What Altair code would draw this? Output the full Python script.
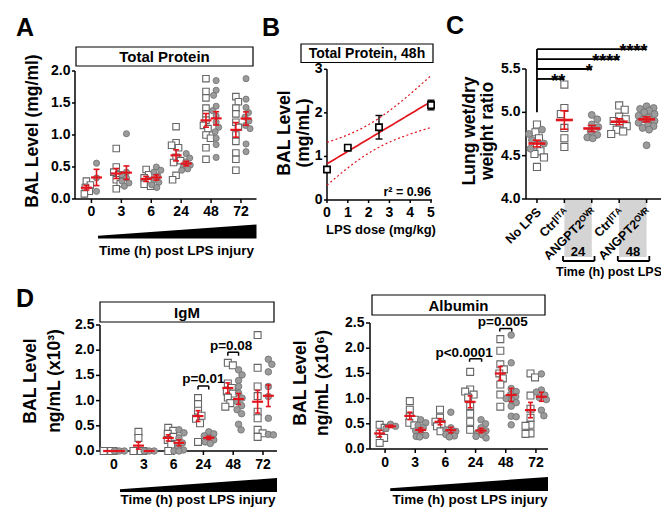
import altair as alt
import numpy as np
import pandas as pd

FONT = "Liberation Sans"
RED = "#e2141c"
OFF = 8            # page margin: chart pixel = image pixel - 8
W, H = 653, 499

# ---------------------------------------------------------------- data
times = ["0", "3", "6", "24", "48", "72"]

# Panel A : Total protein (mg/ml)   squares = Ctrl(ITA), circles = ANGPT2(OVR)
a_ctrl = [
    [0.28, 0.22, 0.18, 0.12, 0.08],
    [0.79, 0.50, 0.42, 0.38, 0.30, 0.24, 0.16],
    [0.46, 0.38, 0.33, 0.28, 0.23, 0.20],
    [1.13, 0.88, 0.84, 0.80, 0.65, 0.60, 0.57, 0.37, 0.30],
    [1.88, 1.68, 1.58, 1.42, 1.33, 1.23, 1.15, 1.10, 1.00, 0.95, 0.80, 0.62],
    [1.60, 1.52, 1.42, 1.33, 1.20, 1.12, 1.00, 0.90, 0.72, 0.62, 0.45],
]
a_angpt2 = [
    [0.56, 0.33, 0.12],
    [1.02, 0.42, 0.38, 0.33, 0.28, 0.25, 0.20],
    [0.50, 0.45, 0.42, 0.36, 0.30, 0.26, 0.22, 0.18],
    [0.71, 0.64, 0.58, 0.53, 0.50, 0.47, 0.45],
    [1.85, 1.70, 1.62, 1.45, 1.38, 1.30, 1.20, 1.12, 1.05, 0.95, 0.85, 0.65],
    [1.88, 1.56, 1.43, 1.35, 1.28, 1.22, 1.15, 1.10, 0.86, 0.74],
]

# Panel B : Total protein at 48h vs LPS dose
b_dose = [0, 1, 2.5, 5]
b_mean = [0.70, 1.20, 1.67, 2.18]
b_sem = [0.05, 0.04, 0.27, 0.11]

# Panel C : lung wet/dry weight ratio
c_labels = ["No LPS", "Ctrl\u1d35\u1d40\u1d2c", "ANGPT2\u1d3c\u2c7d\u1d3f",
            "Ctrl\u1d35\u1d40\u1d2c", "ANGPT2\u1d3c\u2c7d\u1d3f"]
c_ctrl = [
    [4.86, 4.77, 4.70, 4.62, 4.55, 4.52, 4.48, 4.37],
    [5.32, 5.05, 4.98, 4.82, 4.70, 4.60],
    [],
    [5.08, 5.03, 4.95, 4.92, 4.90, 4.87, 4.84, 4.80, 4.78, 4.75],
    [],
]
c_angpt2 = [
    [4.80, 4.75, 4.68, 4.64, 4.58],
    [],
    [4.97, 4.92, 4.86, 4.83, 4.78, 4.74, 4.71, 4.70],
    [],
    [5.07, 5.05, 5.04, 5.02, 5.00, 4.98, 4.96, 4.94, 4.92, 4.90, 4.88, 4.86,
     4.84, 4.82, 4.80, 4.62],
]
c_sig_text = ["**", "*", "****", "****"]
c_sig_level = [5.385, 5.50, 5.615, 5.73]
c_sig_target = [1, 2, 3, 4]
c_time_groups = ["24", "48"]
c_time_from = [1, 3]
c_time_to = [2, 4]

# Panel D : IgM (ng/mL x10^3) and Albumin (ng/mL x10^6)
igm_ctrl = [
    [0, 0, 0, 0],
    [0.38, 0.26, 0, 0, 0, 0],
    [0.46, 0.40, 0.34, 0.28, 0.22, 0.12, 0.0],
    [1.05, 0.93, 0.80, 0.70, 0.64, 0.55, 0.18],
    [1.75, 1.70, 1.34, 1.25, 1.18, 1.14, 1.06, 0.95, 0.88],
    [2.30, 1.65, 1.28, 1.09, 0.78, 0.65, 0.42, 0.35, 0.28],
]
igm_angpt2 = [
    [0, 0, 0],
    [0, 0, 0],
    [0.42, 0.36, 0.26, 0.16, 0.08, 0.02, 0.0, 0.0],
    [0.38, 0.34, 0.30, 0.26, 0.22, 0.18, 0.15],
    [1.61, 1.51, 1.40, 1.28, 1.15, 1.05, 0.98, 0.90, 0.82, 0.74, 0.53, 0.42],
    [1.82, 1.72, 1.57, 1.28, 1.08, 0.65, 0.33, 0.32],
]
alb_ctrl = [
    [0.48, 0.42, 0.30, 0.22, 0.12],
    [0.95, 0.78, 0.64, 0.58, 0.52, 0.47],
    [0.78, 0.62, 0.54, 0.50, 0.45, 0.35],
    [1.53, 1.18, 1.14, 1.08, 1.02, 0.85, 0.70, 0.54, 0.38],
    [2.18, 1.95, 1.68, 1.58, 1.50, 1.40, 1.28, 1.08, 0.84],
    [1.50, 1.42, 1.06, 0.80, 0.62, 0.48, 0.46, 0.31, 0.30],
]
alb_angpt2 = [
    [0.49, 0.45, 0.41],
    [0.58, 0.52, 0.47, 0.42, 0.36, 0.30, 0.27, 0.25, 0.24],
    [0.73, 0.42, 0.38, 0.35, 0.32, 0.29, 0.26, 0.24],
    [0.58, 0.50, 0.42, 0.36, 0.32, 0.28, 0.25, 0.22],
    [2.26, 1.71, 1.20, 1.14, 1.08, 1.04, 1.00, 0.97, 0.92, 0.85, 0.65, 0.64, 0.48],
    [1.49, 1.17, 1.13, 1.07, 1.02, 0.98, 0.77, 0.66],
]
# p-value annotations: text, time index, bracket level, text x, text y
igm_p = ["p=0.01", "p=0.08"]
igm_p_cat = [3, 4]
igm_p_level = [1.29, 1.96]
igm_p_tx = [3.0, 3.93]
igm_p_ty = [1.43, 2.09]
alb_p = ["p<0.0001", "p=0.005"]
alb_p_cat = [3, 4]
alb_p_level = [1.79, 2.39]
alb_p_tx = [2.62, 3.9]
alb_p_ty = [1.90, 2.52]

y_ticks_A = [0, 0.5, 1.0, 1.5, 2.0]
y_ticks_B = [0, 1, 2, 3]
x_ticks_B = [0, 1, 2, 3, 4, 5]
y_ticks_C = [4.0, 4.5, 5.0, 5.5]
y_ticks_D = [0, 0.5, 1.0, 1.5, 2.0, 2.5]


# ---------------------------------------------------------------- helpers
def P(v):
    return v - OFF


def scale(domain, p0, p1):
    return alt.Scale(domain=list(domain), range=[P(p0), P(p1)], nice=False, zero=False)


def X(f, s):
    return alt.X(f, type="quantitative", scale=s, axis=None)


def Y(f, s):
    return alt.Y(f, type="quantitative", scale=s, axis=None)


def text_at(t, x, y, size=13, weight="bold", angle=0, align="center", baseline="middle"):
    df = pd.DataFrame({"t": [t]})
    return alt.Chart(df).mark_text(font=FONT, fontSize=size, fontWeight=weight, angle=angle,
                                   align=align, baseline=baseline, color="black").encode(
        x=alt.value(P(x)), y=alt.value(P(y)), text="t:N")


def title_box(t, x0, x1, y0, y1, size=15):
    df = pd.DataFrame({"t": [t]})
    r = alt.Chart(df).mark_rect(fill="white", stroke="black", strokeWidth=1.2).encode(
        x=alt.value(P(x0)), x2=alt.value(P(x1)), y=alt.value(P(y0)), y2=alt.value(P(y1)))
    return [r, text_at(t, (x0 + x1) / 2, (y0 + y1) / 2 + 0.5, size)]


def fmt(v, dec):
    return f"{v:.{dec}f}"


def y_axis(ys, ax, vals, dec, tick=4, size=14):
    df = pd.DataFrame({"v": vals, "l": [fmt(v, dec) for v in vals]})
    ends = pd.DataFrame({"a": [vals[0]], "b": [vals[-1]]})
    line = alt.Chart(ends).mark_rule(color="black", strokeWidth=1.5).encode(
        x=alt.value(P(ax)), y=Y("a", ys), y2="b")
    ticks = alt.Chart(df).mark_rule(color="black", strokeWidth=1.5).encode(
        x=alt.value(P(ax - tick)), x2=alt.value(P(ax)), y=Y("v", ys))
    txt = alt.Chart(df).mark_text(font=FONT, fontSize=size, fontWeight="bold", align="right",
                                  baseline="middle").encode(
        x=alt.value(P(ax - tick - 1.5)), y=Y("v", ys), text="l:N")
    return [line, ticks, txt]


def x_axis(xs, ay, dom, vals, labs, label_y, tick=4, size=14):
    ends = pd.DataFrame({"a": [dom[0]], "b": [dom[1]]})
    df = pd.DataFrame({"v": vals, "l": labs})
    line = alt.Chart(ends).mark_rule(color="black", strokeWidth=1.5).encode(
        x=X("a", xs), x2="b", y=alt.value(P(ay)))
    ticks = alt.Chart(df).mark_rule(color="black", strokeWidth=1.5).encode(
        x=X("v", xs), y=alt.value(P(ay)), y2=alt.value(P(ay + tick)))
    out = [line, ticks]
    if label_y is not None:
        out.append(alt.Chart(df).mark_text(font=FONT, fontSize=size, fontWeight="bold",
                                           baseline="middle").encode(
            x=X("v", xs), y=alt.value(P(label_y)), text="l:N"))
    return out


def swarm(vals, ppu_y, d, lim):
    """deterministic beeswarm: horizontal pixel offsets so markers do not pile up"""
    cands = np.arange(-lim, lim + 0.01, 0.5)
    order = sorted(range(len(vals)), key=lambda i: (-vals[i], i))
    placed, out = [], [0.0] * len(vals)
    for n_, i in enumerate(order):
        yy = vals[i] * ppu_y
        sgn = 1 if n_ % 2 == 0 else -1
        cs = sorted(cands, key=lambda c: (abs(c), sgn * c))
        best, bestd = 0.0, -1.0
        for c in cs:
            md = min([np.hypot(c - a, yy - b) for a, b in placed], default=1e9)
            if md >= d:
                best = c
                break
            if md > bestd:
                bestd, best = md, c
        placed.append((best, yy))
        out[i] = float(best)
    return out


def group_points(series, center, ppx, ppy, d, lim):
    rows = []
    for k, vals in enumerate(series):
        offs = swarm(vals, ppy, d, lim)
        for v, o in zip(vals, offs):
            rows.append({"c": k + center, "x": k + center + o / ppx, "v": v})
    return pd.DataFrame(rows)


def sq_layer(df, xs, ys, size):
    return alt.Chart(df).mark_point(shape="square", filled=True, fill="white", stroke="#666666",
                                    strokeWidth=1.1, size=size, opacity=1).encode(
        x=X("x", xs), y=Y("v", ys))


def ci_layer(df, xs, ys, size):
    return alt.Chart(df).mark_point(shape="circle", filled=True, fill="#9b9b9b", stroke="#6e6e6e",
                                    strokeWidth=0.8, size=size, opacity=1).encode(
        x=X("x", xs), y=Y("v", ys))


def mean_sem(df, xs, ys, w, cap, th=2.2, color=RED, vfield="v", cfield="c"):
    base = alt.Chart(df).transform_aggregate(
        m=f"mean({vfield})", se=f"stderr({vfield})", groupby=[cfield]).transform_calculate(
        lo="datum.m - datum.se", hi="datum.m + datum.se")
    v = base.mark_rule(color=color, strokeWidth=1.6).encode(x=X(cfield, xs), y=Y("lo", ys), y2="hi")
    caps = base.transform_fold(["lo", "hi"], as_=["k", "e"]).mark_tick(
        color=color, orient="horizontal", size=cap, thickness=1.6, opacity=1).encode(
        x=X(cfield, xs), y=Y("e", ys))
    m = base.mark_tick(color=color, orient="horizontal", size=w, thickness=th, opacity=1).encode(
        x=X(cfield, xs), y=Y("m", ys))
    return [v, caps, m]


def wedge(xs, x0, x1, ybottom, hmax):
    ws = alt.Scale(domain=[0, 1], range=[P(ybottom), P(ybottom - hmax)], nice=False, zero=False)
    df = pd.DataFrame({"x": [x0, x1], "h": [0.2, 1.0], "z": [0.0, 0.0]})
    return alt.Chart(df).mark_area(color="black", opacity=1).encode(
        x=X("x", xs), y=Y("h", ws), y2="z")


def time_panel(ctrl, ang, xs, ys, ppx, ppy, off, size, d, lim, mw, cw):
    dfs = group_points(ctrl, -off, ppx, ppy, d, lim)
    dfc = group_points(ang, off, ppx, ppy, d, lim)
    return ([sq_layer(dfs, xs, ys, size), ci_layer(dfc, xs, ys, size * 0.9)]
            + mean_sem(dfs, xs, ys, mw, cw) + mean_sem(dfc, xs, ys, mw, cw))


def p_brackets(xs, ys, texts, cats, levels, tx, ty, off, leg):
    df = pd.DataFrame({"t": texts, "a": [c - off for c in cats], "b": [c + off for c in cats],
                       "lv": levels, "lo": [l - leg for l in levels], "tx": tx, "ty": ty})
    hline = alt.Chart(df).mark_rule(color="black", strokeWidth=1.5).encode(
        x=X("a", xs), x2="b", y=Y("lv", ys))
    legs = alt.Chart(df).transform_fold(["a", "b"], as_=["k", "e"]).mark_rule(
        color="black", strokeWidth=1.5).encode(x=X("e", xs), y=Y("lv", ys), y2="lo")
    txt = alt.Chart(df).mark_text(font=FONT, fontSize=13.5, fontWeight="bold",
                                  baseline="middle").encode(
        x=X("tx", xs), y=Y("ty", ys), text="t:N")
    return [hline, legs, txt]


layers = []
cat_idx = list(range(len(times)))

# ---------------------------------------------------------------- Panel A
domA = [-0.55, 5.52]
xsA = scale(domA, 75, 256.5)
ysA = scale([0, 2], 199, 71)
layers += [text_at("A", 16, 36, 25, align="left", baseline="alphabetic")]
layers += title_box("Total Protein", 76, 253, 47, 66)
layers += [text_at("BAL Level (mg/ml)", 33, 131, 17.5, angle=270)]
layers += y_axis(ysA, 75, y_ticks_A, 1, tick=3)
layers += x_axis(xsA, 199, domA, cat_idx, times, 212)
layers += time_panel(a_ctrl, a_angpt2, xsA, ysA, 29.9, 64.0, 0.17, 42, 5.5, 4.5, 11, 6)
layers += [wedge(xsA, 0.22, 5.52, 238.5, 14)]
layers += [text_at("Time (h) post LPS injury", 176.5, 251, 13.5)]

# ---------------------------------------------------------------- Panel B
xsB = scale([0, 5], 327, 431)
ysB = scale([0, 3], 200, 69.3)
bx = np.array(b_dose, dtype=float)
by = np.array(b_mean, dtype=float)
nB = len(bx)
slope, icpt = np.polyfit(bx, by, 1)
resid = by - (icpt + slope * bx)
sse = float((resid ** 2).sum())
s_err = np.sqrt(sse / (nB - 2))
sxx = float(((bx - bx.mean()) ** 2).sum())
r2 = 1 - sse / float(((by - by.mean()) ** 2).sum())
T975_DF2 = 4.303  # two-sided 95% t quantile, 2 degrees of freedom
grid = np.linspace(0, 5, 41)
fit = icpt + slope * grid
half = T975_DF2 * s_err * np.sqrt(1 / nB + (grid - bx.mean()) ** 2 / sxx)
df_fit = pd.DataFrame({"x": grid, "f": fit, "lo": fit - half, "hi": fit + half})
df_b = pd.DataFrame({"d": b_dose, "m": b_mean,
                     "lo": [m - s for m, s in zip(b_mean, b_sem)],
                     "hi": [m + s for m, s in zip(b_mean, b_sem)]})

layers += [text_at("B", 262, 36, 25, align="left", baseline="alphabetic")]
layers += title_box("Total Protein, 48h", 301, 433, 44, 62.5, size=14)
layers += [text_at("BAL Level", 285, 133, 17.5, angle=270),
           text_at("(mg/mL)", 304, 133, 17.5, angle=270)]
layers += y_axis(ysB, 327, y_ticks_B, 0, tick=3)
layers += x_axis(xsB, 200, [0, 5.05], x_ticks_B, [str(v) for v in x_ticks_B], 212.5, tick=3)
for col in ["lo", "hi"]:
    layers.append(alt.Chart(df_fit).mark_line(color=RED, strokeDash=[2, 2.5], strokeWidth=1.2).encode(
        x=X("x", xsB), y=Y(col, ysB)))
layers.append(alt.Chart(df_fit).mark_line(color=RED, strokeWidth=1.7).encode(
    x=X("x", xsB), y=Y("f", ysB)))
layers.append(alt.Chart(df_b).mark_rule(color="black", strokeWidth=1.4).encode(
    x=X("d", xsB), y=Y("lo", ysB), y2="hi"))
layers.append(alt.Chart(df_b).transform_fold(["lo", "hi"], as_=["k", "e"]).mark_tick(
    color="black", orient="horizontal", size=7, thickness=1.4, opacity=1).encode(
    x=X("d", xsB), y=Y("e", ysB)))
layers.append(alt.Chart(df_b).mark_point(shape="square", filled=True, fill="white", stroke="black",
                                         strokeWidth=1.6, size=40, opacity=1).encode(
    x=X("d", xsB), y=Y("m", ysB)))
layers += [text_at(f"r\u00b2 = {r2:.2f}", 431, 192, 12.5, align="right")]
layers += [text_at("LPS dose (mg/kg)", 381, 230, 13)]

# ---------------------------------------------------------------- Panel C
domC = [-0.4, 4.65]
xsC = scale(domC, 526, 664.4)
ysC = scale([4.0, 5.5], 199, 69)
c_rows = []
for k in range(len(c_labels)):
    vals = c_ctrl[k] + c_angpt2[k]
    kinds = ["sq"] * len(c_ctrl[k]) + ["ci"] * len(c_angpt2[k])
    offs = swarm(vals, 86.7, 7.0, 8.0)
    for v, kd, o in zip(vals, kinds, offs):
        c_rows.append({"c": k, "x": k + o / 27.4, "v": v, "kind": kd})
dfC = pd.DataFrame(c_rows)
shade = pd.DataFrame({"a": c_time_from, "b": c_time_to, "t": c_time_groups,
                      "m": [(a + b) / 2 for a, b in zip(c_time_from, c_time_to)],
                      "e0": [a - 0.05 for a in c_time_from], "e1": [b + 0.1 for b in c_time_to]})
layers += [alt.Chart(shade).mark_rect(fill="#d4d4d4").encode(
    x=X("a", xsC), x2="b", y=alt.value(P(199)), y2=alt.value(P(257)))]
layers += [text_at("C", 446, 34, 25, align="left", baseline="alphabetic")]
layers += [text_at("Lung wet/dry", 470, 131, 17.5, angle=270),
           text_at("weight ratio", 488, 131, 17.5, angle=270)]
layers += y_axis(ysC, 526, y_ticks_C, 1, tick=4)
layers += x_axis(xsC, 199, domC, list(range(len(c_labels))), c_labels, None)
df_cl = pd.DataFrame({"c": [k + 0.08 for k in range(len(c_labels))], "l": c_labels})
layers.append(alt.Chart(df_cl).mark_text(font=FONT, fontSize=12.5, fontWeight="bold", angle=315,
                                         align="right", baseline="middle").encode(
    x=X("c", xsC), y=alt.value(P(210)), text="l:N"))
layers.append(sq_layer(dfC[dfC.kind == "sq"], xsC, ysC, 50))
layers.append(ci_layer(dfC[dfC.kind == "ci"], xsC, ysC, 48))
layers += mean_sem(dfC, xsC, ysC, 17, 8, th=2.6)
# significance bars
sig = pd.DataFrame({"lv": c_sig_level, "a": [0] * 4, "b": c_sig_target, "t": c_sig_text})
vert = pd.DataFrame({"c": [0], "y0": [5.0], "y1": [max(c_sig_level)]})
layers.append(alt.Chart(vert).mark_rule(color="black", strokeWidth=1.8).encode(
    x=X("c", xsC), y=Y("y0", ysC), y2="y1"))
layers.append(alt.Chart(sig).mark_rule(color="black", strokeWidth=1.8).encode(
    x=X("a", xsC), x2="b", y=Y("lv", ysC)))
layers.append(alt.Chart(sig).mark_text(font=FONT, fontSize=18, fontWeight="bold", align="right",
                                       baseline="alphabetic", dy=8, dx=1).encode(
    x=X("b", xsC), y=Y("lv", ysC), text="t:N"))
# time brackets below axis
layers.append(alt.Chart(shade).mark_rule(color="black", strokeWidth=1.8).encode(
    x=X("e0", xsC), x2="e1", y=alt.value(P(261))))
layers.append(alt.Chart(shade).transform_fold(["e0", "e1"], as_=["k", "e"]).mark_rule(
    color="black", strokeWidth=1.8).encode(x=X("e", xsC), y=alt.value(P(256)), y2=alt.value(P(261))))
layers.append(alt.Chart(shade).mark_text(font=FONT, fontSize=13, fontWeight="bold",
                                         baseline="middle").encode(
    x=X("m", xsC), y=alt.value(P(252)), text="t:N"))
layers += [text_at("Time (h) post LPS", 609, 272, 12.5)]

# ---------------------------------------------------------------- Panel D: IgM
domD1 = [-0.47, 5.47]
xsD1 = scale(domD1, 100, 277)
ysD1 = scale([0, 2.5], 451, 325)
layers += [text_at("D", 16, 307, 25, align="left", baseline="alphabetic")]
layers += title_box("IgM", 100, 274, 302, 322)
layers += [text_at("BAL Level", 31, 381, 17.5, angle=270),
           text_at("ng/mL (x10\u00b3)", 55, 381, 17.5, angle=270)]
layers += y_axis(ysD1, 100, y_ticks_D, 1, tick=4)
layers += x_axis(xsD1, 451, domD1, cat_idx, times, 465)
layers += time_panel(igm_ctrl, igm_angpt2, xsD1, ysD1, 29.8, 50.4, 0.18, 48, 6.0, 5.0, 11, 5)
layers += p_brackets(xsD1, ysD1, igm_p, igm_p_cat, igm_p_level, igm_p_tx, igm_p_ty, 0.18, 0.07)
layers += [wedge(xsD1, 0.2, 5.47, 492, 14)]
layers += [text_at("Time (h) post LPS injury", 198, 499.5, 13.5)]

# ---------------------------------------------------------------- Panel D: Albumin
domD2 = [-0.5, 5.4]
xsD2 = scale(domD2, 370, 548)
ysD2 = scale([0, 2.5], 449, 323)
layers += title_box("Albumin", 372, 545, 295, 315)
layers += [text_at("BAL Level", 301, 383, 17.5, angle=270),
           text_at("ng/mL (x10\u2076)", 323, 383, 17.5, angle=270)]
layers += y_axis(ysD2, 370, y_ticks_D, 1, tick=4)
layers += x_axis(xsD2, 449, domD2, cat_idx, times, 463)
layers += time_panel(alb_ctrl, alb_angpt2, xsD2, ysD2, 30.17, 50.4, 0.18, 48, 6.0, 5.0, 11, 5)
layers += p_brackets(xsD2, ysD2, alb_p, alb_p_cat, alb_p_level, alb_p_tx, alb_p_ty, 0.2, 0.06)
layers += [wedge(xsD2, 0.17, 5.4, 491, 14)]
layers += [text_at("Time (h) post LPS injury", 470, 499.5, 13.5)]

chart = alt.layer(*layers).resolve_scale(x="independent", y="independent").properties(
    width=W, height=H, autosize=alt.AutoSizeParams(type="none"), padding=0,
    background="white").configure_view(stroke=None)

chart.save("out.html", embed_options={"renderer": "svg", "actions": False})
